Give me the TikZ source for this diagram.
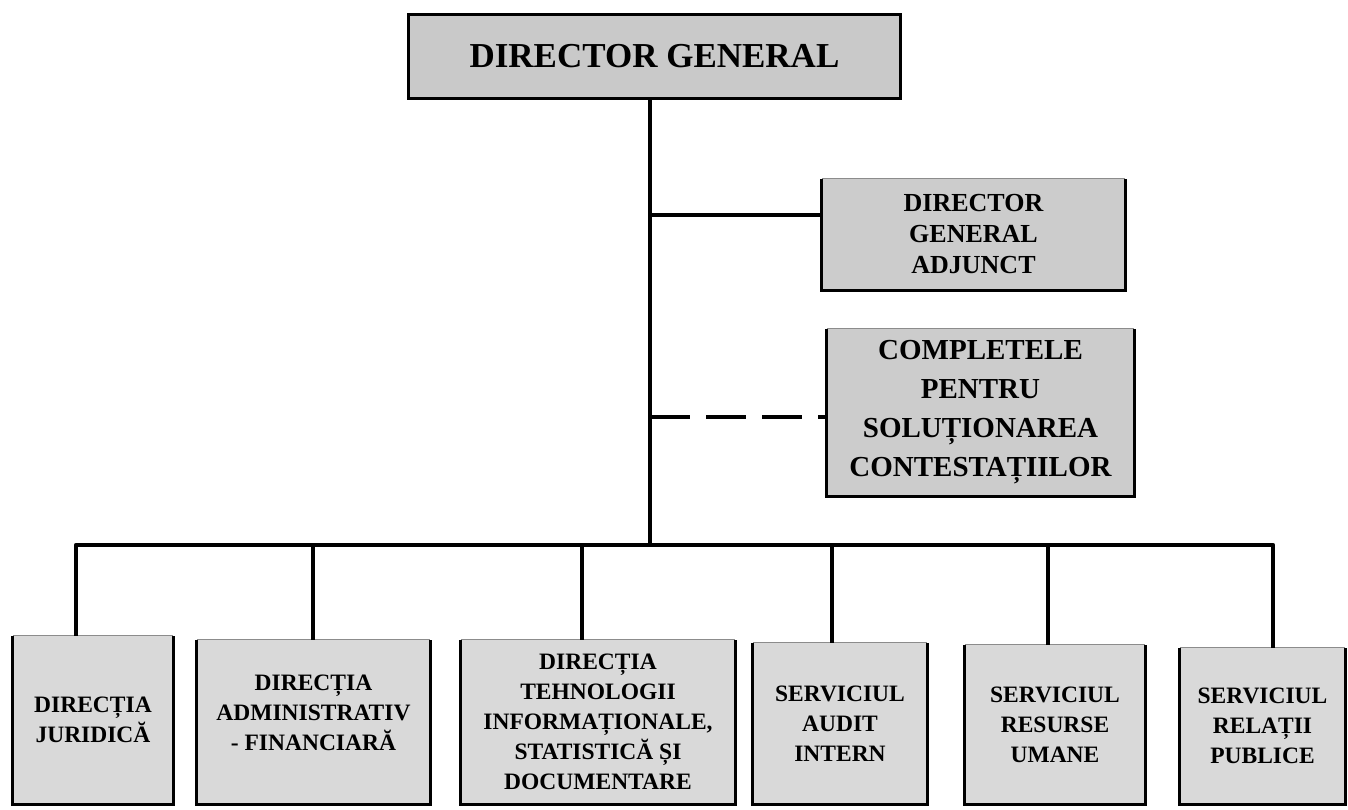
\documentclass[tikz,border=0pt]{standalone}
\usepackage{fontspec}
\setmainfont{Liberation Serif}
\begin{document}
\begin{tikzpicture}[x=1pt,y=-1pt,
  boxbase/.style={draw=none, inner sep=0pt, align=center, font=\bfseries},
  topbox/.style={boxbase, fill=gray!42},
  midbox/.style={boxbase, fill=gray!40},
  lowbox/.style={boxbase, fill=gray!30, font=\fontsize{23.5}{30}\selectfont\bfseries},
  link/.style={line width=4.5pt, line join=round, line cap=butt, black},
  rim/.style={line width=2.8pt, black, line join=miter},
  faintrim/.style={line width=1pt, black!45}]
\useasboundingbox (0,0) rectangle (1348,810);

% boxes
\node[topbox, minimum width=491pt, minimum height=83pt,
      font=\fontsize{35}{40}\selectfont\bfseries] (dg) at (654.5,56.5) {DIRECTOR GENERAL};
\node[midbox, minimum width=303pt, minimum height=111pt,
      font=\fontsize{26}{31}\selectfont\bfseries] (dga) at (973.5,234.5) {DIRECTOR\\GENERAL\\ADJUNCT};
\node[midbox, minimum width=307pt, minimum height=167pt,
      font=\fontsize{29}{39}\selectfont\bfseries] (csc) at (980.5,412.5) {COMPLETELE\\PENTRU\\SOLUȚIONAREA\\CONTESTAȚIILOR};
\node[lowbox, minimum width=160pt, minimum height=168pt] (b1) at (93,720) {DIRECȚIA\\JURIDICĂ};
\node[lowbox, minimum width=233pt, minimum height=164pt] (b2) at (313.5,722) {DIRECȚIA\\ADMINISTRATIV\\- FINANCIARĂ\\[-12pt]\mbox{}};
\node[lowbox, minimum width=274pt, minimum height=164pt] (b3) at (598,722) {DIRECȚIA\\TEHNOLOGII\\INFORMAȚIONALE,\\STATISTICĂ ȘI\\DOCUMENTARE};
\node[lowbox, minimum width=174pt, minimum height=161pt] (b4) at (840,723.5) {SERVICIUL\\AUDIT\\INTERN};
\node[lowbox, minimum width=180pt, minimum height=159pt] (b5) at (1055,724.5) {SERVICIUL\\RESURSE\\UMANE};
\node[lowbox, minimum width=165pt, minimum height=156pt] (b6) at (1262.5,726) {SERVICIUL\\RELAȚII\\PUBLICE};

% box outlines
\draw[rim] (dg.north west) rectangle (dg.south east);
\foreach \b in {dga,csc,b1,b2,b3,b4,b5,b6}{
  \draw[faintrim] (\b.north west) -- (\b.north east);
  \draw[rim] (\b.north west) -- (\b.south west) -- (\b.south east) -- (\b.north east);
}

% connector coordinates
\coordinate (trunk) at (650,545);
\coordinate (jdga) at (650,215);
\coordinate (jcsc) at (650,417);
\coordinate (d1) at (76,545);
\coordinate (d2) at (313,545);
\coordinate (d3) at (582,545);
\coordinate (d4) at (832,545);
\coordinate (d5) at (1048,545);
\coordinate (d6) at (1273,545);

% connectors
\draw[link] (trunk |- dg.south) -- (trunk);
\draw[link] (jdga) -- (jdga -| dga.west);
\draw[link, dash pattern=on 40pt off 16pt] (jcsc) -- (jcsc -| csc.west);
\draw[link] (d1 |- b1.north) -- (d1) -- (d6) -- (d6 |- b6.north);
\draw[link] (d2) -- (d2 |- b2.north);
\draw[link] (d3) -- (d3 |- b3.north);
\draw[link] (d4) -- (d4 |- b4.north);
\draw[link] (d5) -- (d5 |- b5.north);
\end{tikzpicture}
\end{document}
